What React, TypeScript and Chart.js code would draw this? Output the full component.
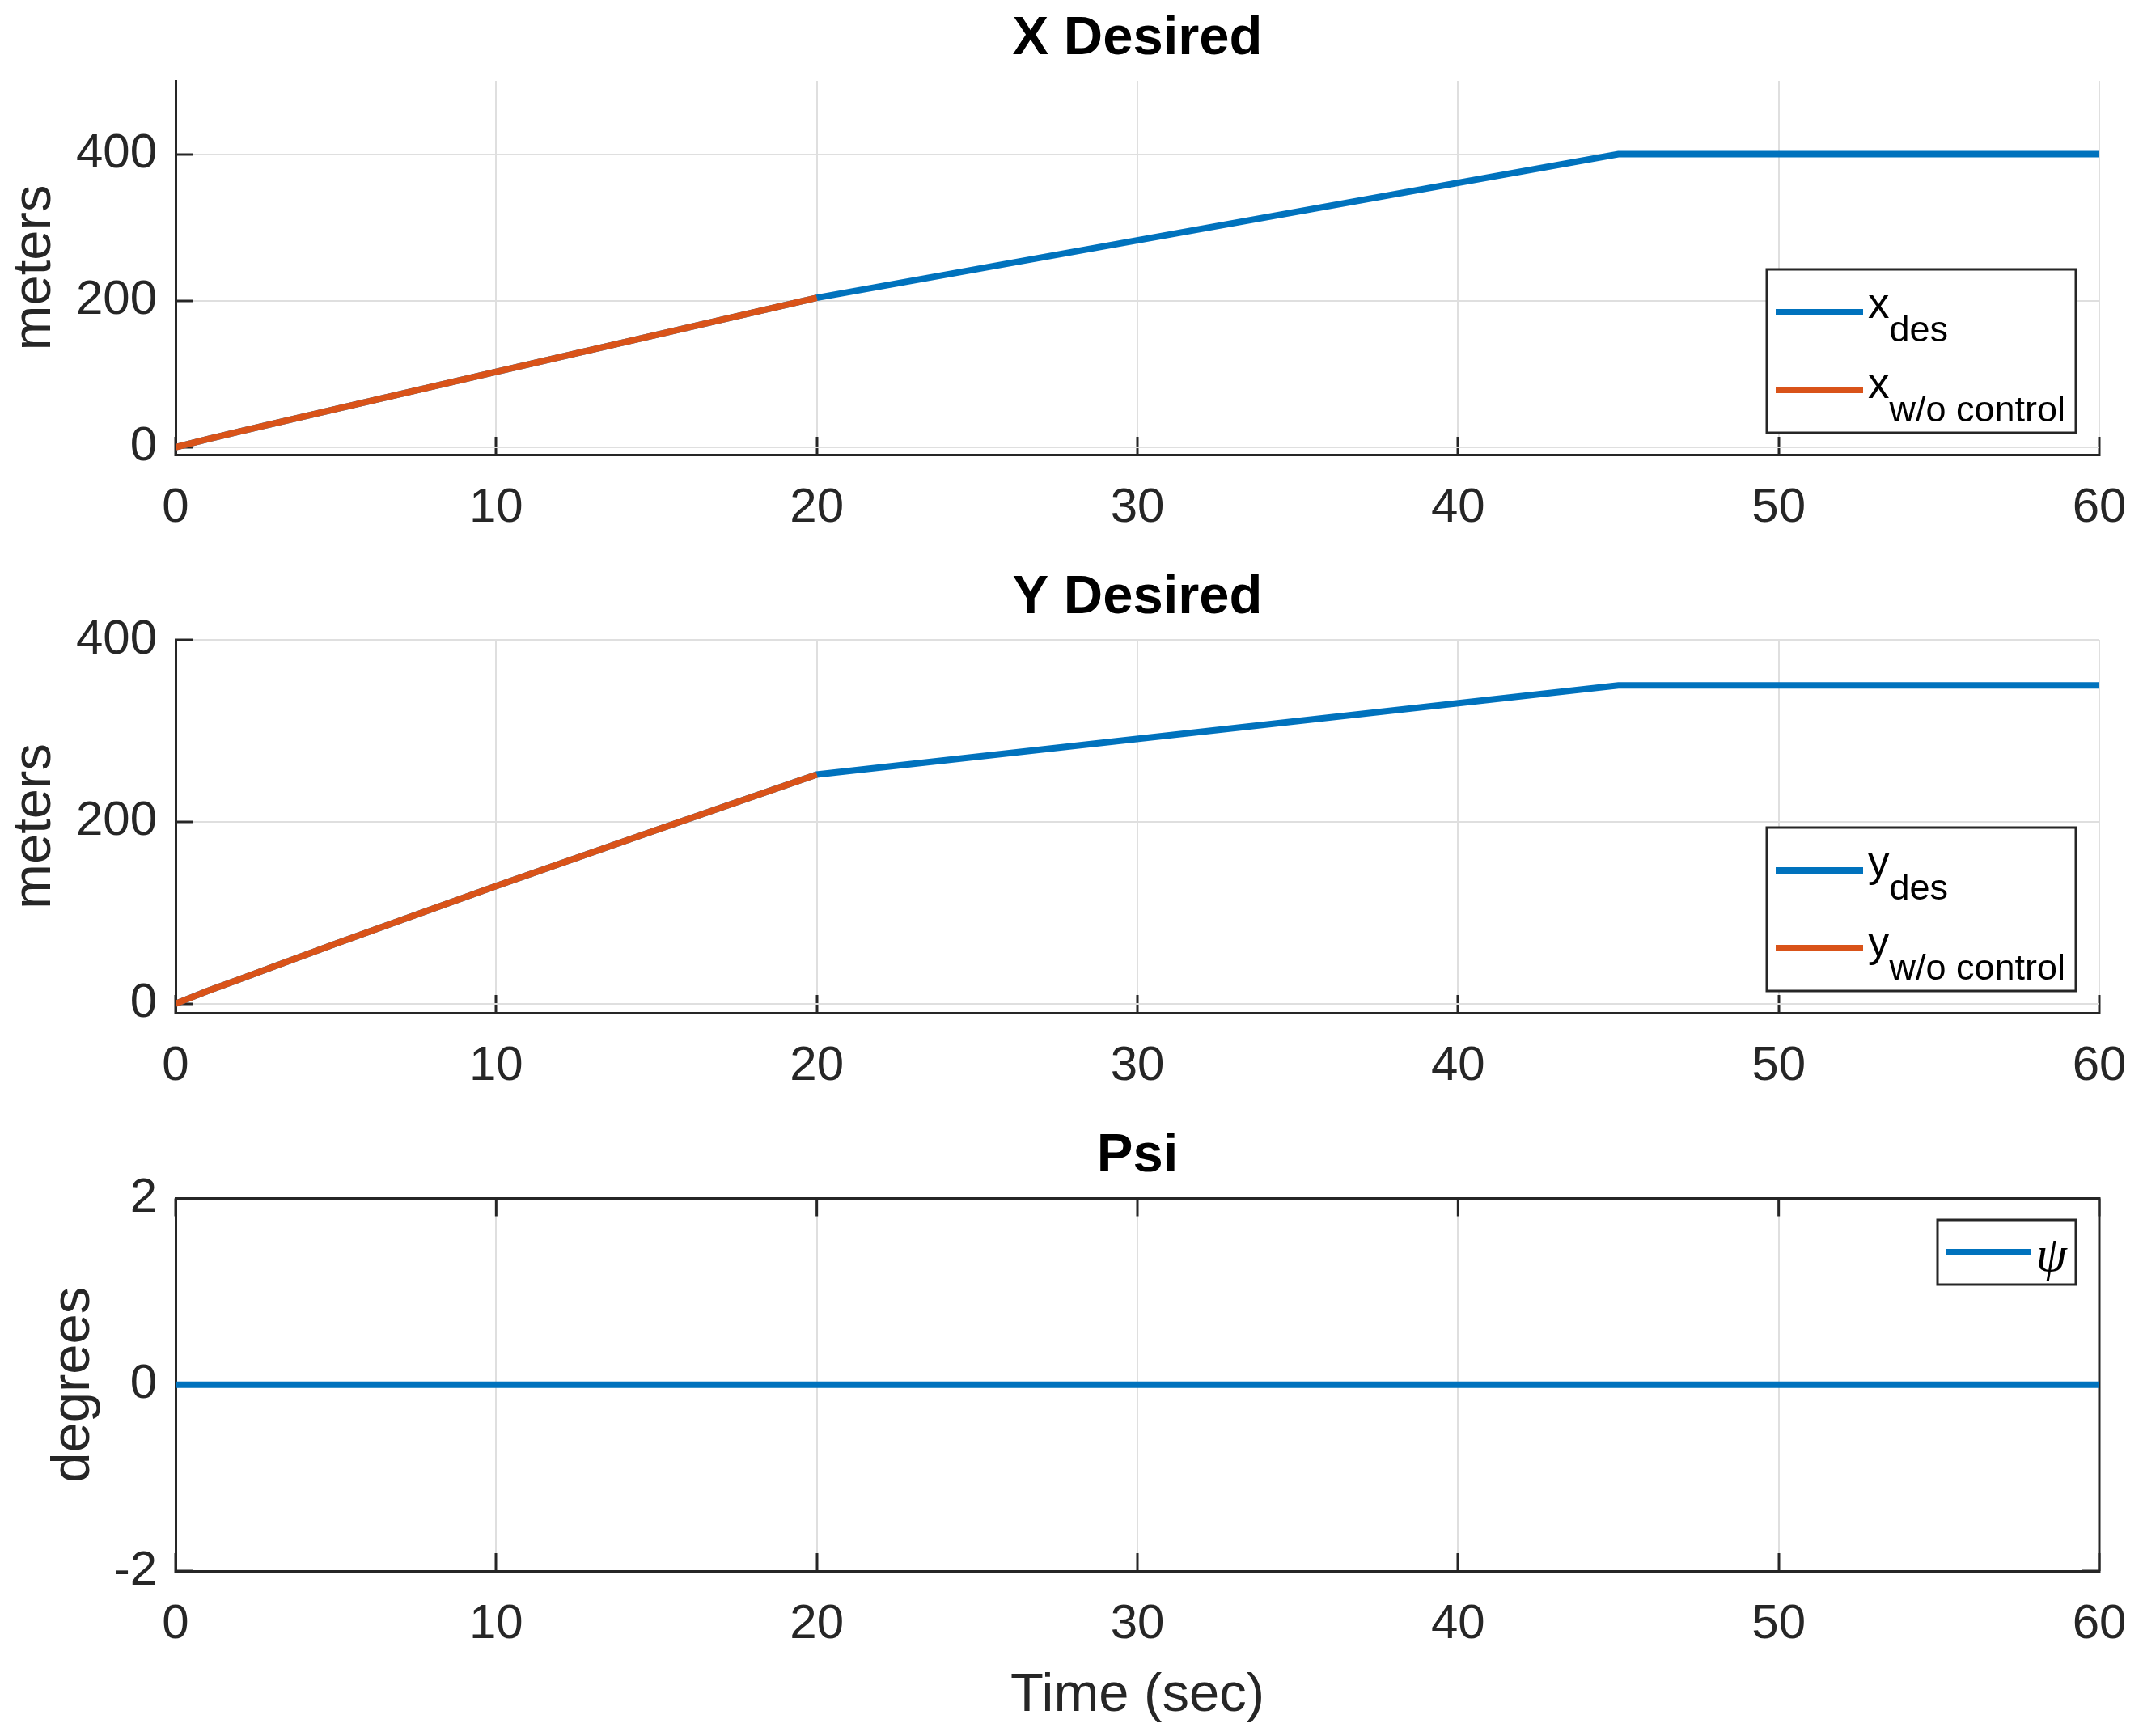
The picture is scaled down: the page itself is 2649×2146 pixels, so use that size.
import React, { useEffect, useRef } from 'react';
import { Chart, registerables } from 'chart.js';

Chart.register(...registerables);

// ---------- data ----------
const xTicks = [0, 10, 20, 30, 40, 50, 60];
const posTicks = [0, 200, 400];
const psiTicks = [-2, 0, 2];

const timeWithoutControl = [0, 0.5, 1, 2, 3, 5, 10, 15, 20];
const xWithoutControl = [0, 5.5, 11, 21.5, 31.8, 52.2, 103, 153.5, 204];
const yWithoutControl = [0, 7, 14, 27, 40, 66, 129.5, 191, 252];

const timeDesired = [0, 0.5, 1, 2, 3, 5, 10, 15, 20, 45, 60];
const xDesired = [0, 5.5, 11, 21.5, 31.8, 52.2, 103, 153.5, 204, 400, 400];
const yDesired = [0, 7, 14, 27, 40, 66, 129.5, 191, 252, 350, 350];

const timePsi = [0, 60];
const psiDegrees = [0, 0];

// ---------- style ----------
const W = 2649;
const FONT = '"Liberation Sans", Arial, Helvetica, sans-serif';
const AX = '#262626';
const GRID = '#dfdfdf';
const BLUE = '#0072BD';
const ORANGE = '#D95319';
const TICK_FONT = 60;
const LABEL_FONT = 67;
const LINE_W = 8;

const pts = (t: number[], v: number[]) => t.map((x, i) => ({ x, y: v[i] }));

const legendPlugin = {
  id: 'matLegend',
  afterDraw(chart: any, _args: any, opts: any) {
    if (!opts || !opts.entries) return;
    const { ctx, chartArea: a } = chart;
    const left = a.right - opts.offsetRight - opts.width;
    const top = opts.anchor === 'bottom' ? a.bottom - opts.offsetBottom - opts.height : a.top + opts.offsetTop;
    ctx.save();
    ctx.fillStyle = '#ffffff';
    ctx.fillRect(left, top, opts.width, opts.height);
    ctx.strokeStyle = AX;
    ctx.lineWidth = 3;
    ctx.strokeRect(left, top, opts.width, opts.height);
    opts.entries.forEach((e: any, i: number) => {
      const ly = top + opts.lineY[i];
      ctx.beginPath();
      ctx.strokeStyle = e.color;
      ctx.lineWidth = LINE_W;
      ctx.moveTo(left + opts.lineX0, ly);
      ctx.lineTo(left + opts.lineX1, ly);
      ctx.stroke();
      ctx.fillStyle = '#000000';
      ctx.textBaseline = 'alphabetic';
      ctx.textAlign = 'left';
      ctx.font = e.font;
      const bx = left + opts.textX;
      const by = top + opts.baseY[i];
      ctx.fillText(e.main, bx, by);
      if (e.sub) {
        const mw = ctx.measureText(e.main).width;
        ctx.font = e.subFont;
        ctx.fillText(e.sub, bx + mw, by + opts.subDy);
      }
    });
    ctx.restore();
  },
};

const boxPlugin = {
  id: 'matBox',
  beforeDatasetsDraw(chart: any, _args: any, opts: any) {
    if (!opts || !opts.enabled) return;
    const { ctx, chartArea: a, scales } = chart;
    ctx.save();
    ctx.strokeStyle = AX;
    ctx.lineWidth = 3;
    ctx.beginPath();
    ctx.moveTo(a.left, a.top);
    ctx.lineTo(a.right, a.top);
    ctx.lineTo(a.right, a.bottom);
    ctx.stroke();
    ctx.beginPath();
    xTicks.forEach((v) => {
      const px = scales.x.getPixelForValue(v);
      ctx.moveTo(px, a.top);
      ctx.lineTo(px, a.top + 22);
    });
    (opts.yTicks as number[]).forEach((v) => {
      const py = scales.y.getPixelForValue(v);
      ctx.moveTo(a.right, py);
      ctx.lineTo(a.right - 22, py);
    });
    ctx.stroke();
    ctx.restore();
  },
};

interface PanelCfg {
  top: number;
  height: number;
  title: string;
  titlePadTop: number;
  titlePadBottom: number;
  xAxisHeight: number;
  yMin: number;
  yMax: number;
  yTicks: number[];
  yLabel: string;
  yLabelPad: number;
  xLabel?: string;
  xLabelPadBottom?: number;
  datasets: any[];
  legend: any;
  box: boolean;
}

const zeroPad = (s: any) => {
  s.paddingLeft = 0;
  s.paddingRight = 0;
  s.paddingTop = 0;
  s.paddingBottom = 0;
};

function Panel({ cfg }: { cfg: PanelCfg }) {
  const ref = useRef<HTMLCanvasElement | null>(null);
  useEffect(() => {
    if (!ref.current) return;
    const chart = new Chart(ref.current, {
      type: 'line',
      data: { datasets: cfg.datasets },
      plugins: [boxPlugin, legendPlugin],
      options: {
        animation: false,
        responsive: false,
        devicePixelRatio: 1,
        layout: { padding: { left: 0, right: 54, top: 0, bottom: 0 } },
        elements: { point: { radius: 0 }, line: { tension: 0 } },
        plugins: {
          legend: { display: false },
          tooltip: { enabled: false },
          title: {
            display: true,
            text: cfg.title,
            fullSize: false,
            color: '#000000',
            font: { family: FONT, size: LABEL_FONT, weight: 'bold' },
            padding: { top: cfg.titlePadTop, bottom: cfg.titlePadBottom },
          },
          matLegend: cfg.legend,
          matBox: { enabled: cfg.box, yTicks: cfg.yTicks },
        } as any,
        scales: {
          x: {
            type: 'linear',
            min: 0,
            max: 60,
            afterBuildTicks: (s: any) => {
              s.ticks = xTicks.map((v) => ({ value: v }));
            },
            afterFit: (s: any) => {
              s.height = cfg.xAxisHeight;
              zeroPad(s);
            },
            ticks: {
              color: AX,
              font: { family: FONT, size: TICK_FONT },
              padding: 52.5,
              maxRotation: 0,
              autoSkip: false,
            },
            grid: { color: GRID, lineWidth: 2, tickLength: -22, tickColor: AX, tickWidth: 3 },
            border: { display: true, color: AX, width: 3 },
            title: cfg.xLabel
              ? {
                  display: true,
                  text: cfg.xLabel,
                  color: AX,
                  font: { family: FONT, size: LABEL_FONT },
                  padding: { top: 0, bottom: cfg.xLabelPadBottom },
                }
              : { display: false },
          },
          y: {
            type: 'linear',
            min: cfg.yMin,
            max: cfg.yMax,
            afterBuildTicks: (s: any) => {
              s.ticks = cfg.yTicks.map((v) => ({ value: v }));
            },
            afterFit: (s: any) => {
              s.width = 217;
              zeroPad(s);
            },
            ticks: {
              color: AX,
              font: { family: FONT, size: TICK_FONT },
              padding: 45,
              autoSkip: false,
            },
            grid: { color: GRID, lineWidth: 2, tickLength: -22, tickColor: AX, tickWidth: 3 },
            border: { display: true, color: AX, width: 3 },
            title: {
              display: true,
              text: cfg.yLabel,
              color: AX,
              font: { family: FONT, size: LABEL_FONT },
              padding: { top: cfg.yLabelPad, bottom: 0 },
            },
          },
        },
      } as any,
    });
    return () => chart.destroy();
  }, [cfg]);
  return (
    <canvas
      ref={ref}
      width={W}
      height={cfg.height}
      style={{ position: 'absolute', left: 0, top: cfg.top, width: W, height: cfg.height }}
    />
  );
}

const legendBase = {
  width: 382,
  height: 202,
  offsetRight: 29,
  lineX0: 11,
  lineX1: 119,
  lineY: [53, 149],
  textX: 125,
  baseY: [60, 159],
  subDy: 29,
};
const mainFont = `53px ${FONT}`;
const subFont = `45px ${FONT}`;

const panels: PanelCfg[] = [
  {
    top: 0,
    height: 680,
    title: 'X Desired',
    titlePadTop: 8.5,
    titlePadBottom: 11.1,
    xAxisHeight: 118,
    yMin: -10,
    yMax: 500,
    yTicks: posTicks,
    yLabel: 'meters',
    yLabelPad: 3.6,
    datasets: [
      { label: 'x_des', data: pts(timeDesired, xDesired), borderColor: BLUE, borderWidth: LINE_W, order: 2 },
      { label: 'x_w/o control', data: pts(timeWithoutControl, xWithoutControl), borderColor: ORANGE, borderWidth: LINE_W, order: 1 },
    ],
    legend: {
      ...legendBase,
      anchor: 'bottom',
      offsetBottom: 27,
      entries: [
        { color: BLUE, main: 'x', sub: 'des', font: mainFont, subFont },
        { color: ORANGE, main: 'x', sub: 'w/o control', font: mainFont, subFont },
      ],
    },
    box: false,
  },
  {
    top: 680,
    height: 690,
    title: 'Y Desired',
    titlePadTop: 19.5,
    titlePadBottom: 11.1,
    xAxisHeight: 118,
    yMin: -10,
    yMax: 400,
    yTicks: posTicks,
    yLabel: 'meters',
    yLabelPad: 3.6,
    datasets: [
      { label: 'y_des', data: pts(timeDesired, yDesired), borderColor: BLUE, borderWidth: LINE_W, order: 2 },
      { label: 'y_w/o control', data: pts(timeWithoutControl, yWithoutControl), borderColor: ORANGE, borderWidth: LINE_W, order: 1 },
    ],
    legend: {
      ...legendBase,
      anchor: 'bottom',
      offsetBottom: 27,
      entries: [
        { color: BLUE, main: 'y', sub: 'des', font: mainFont, subFont },
        { color: ORANGE, main: 'y', sub: 'w/o control', font: mainFont, subFont },
      ],
    },
    box: false,
  },
  {
    top: 1370,
    height: 776,
    title: 'Psi',
    titlePadTop: 19.5,
    titlePadBottom: 11.6,
    xAxisHeight: 204,
    yMin: -2,
    yMax: 2,
    yTicks: psiTicks,
    yLabel: 'degrees',
    yLabelPad: 51.6,
    xLabel: 'Time (sec)',
    xLabelPadBottom: 8.8,
    datasets: [{ label: 'psi', data: pts(timePsi, psiDegrees), borderColor: BLUE, borderWidth: LINE_W, order: 1 }],
    legend: {
      width: 171,
      height: 80,
      anchor: 'top',
      offsetTop: 26.5,
      offsetRight: 29,
      lineX0: 11,
      lineX1: 116,
      lineY: [40],
      textX: 122,
      baseY: [63],
      subDy: 0,
      entries: [{ color: BLUE, main: '\u03C8', font: `italic 61px "Liberation Serif", "DejaVu Serif", serif` }],
    },
    box: true,
  },
];

export default function App() {
  return (
    <div style={{ position: 'absolute', left: 0, top: 0, width: W, height: 2146, background: '#ffffff' }}>
      {panels.map((p, i) => (
        <Panel key={i} cfg={p} />
      ))}
    </div>
  );
}
